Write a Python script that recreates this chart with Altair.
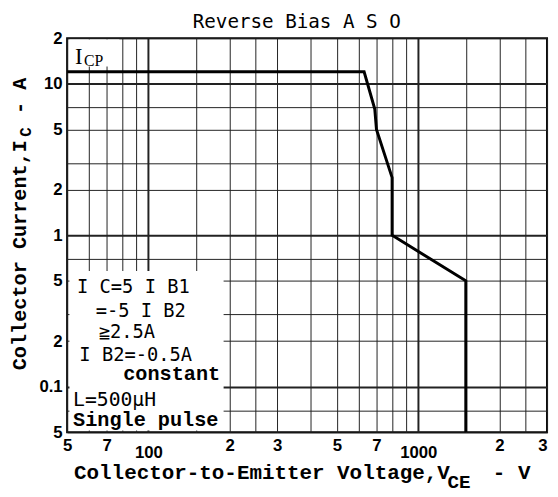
import altair as alt
import pandas as pd

# ---- data ----
V = [50, 630, 690, 700, 800, 800, 1500, 1500]          # Collector-to-Emitter voltage (V)
I = [12, 12, 6.8, 5, 2.4, 1, 0.5, 0.05]                 # Collector current (A)

x_grid = [50, 60, 70, 80, 90, 100, 150, 200, 250, 300, 400, 500, 600, 700, 800, 900,
          1000, 1500, 2000, 2500, 3000]
x_tick_values = [50, 70, 100, 200, 300, 500, 700, 1000, 2000, 3000]
x_tick_labels = ["5", "7", "100", "2", "3", "5", "7", "1000", "2", "3"]

NB = "\u00a0"
y_grid = [0.05, 0.07, 0.1, 0.2, 0.3, 0.5, 0.7, 1, 2, 3, 5, 7, 10, 20]
y_tick_values = [20, 10, 5, 2, 1, 0.5, 0.2, 0.1, 0.05]
y_tick_labels = ["2", "10" + NB * 2, "5", "2", "1" + NB * 3, "5", "2", "0.1" + NB, "5"]

# annotation texts (anchored in data coordinates)
note_text = ["I C=5 I B1", "=-5 I B2", "≧2.5A", "I B2=-0.5A"]
note_V = [54.4, 63.8, 65.5, 55.5]
note_I = [0.455, 0.315, 0.228, 0.161]
note_l_text = ["L=500μH"]
note_l_V = [52.6]
note_l_I = [0.0815]
note2_text = ["constant", "Single pulse"]
note2_V = [80.7, 52.6]
note2_I = [0.121, 0.0600]

box_V = [51, 190]
box_I = [0.0515, 0.58]
icp_box_V = [51, 78]
icp_box_I = [13.0, 19.6]


def label_expr(vals, labels):
    expr = "''"
    for v, l in reversed(list(zip(vals, labels))):
        expr = f"datum.value == {v} ? '{l}' : ({expr})"
    return expr


major_x = "datum.value == 100 || datum.value == 1000"
major_y = "datum.value == 1 || datum.value == 10 || datum.value == 0.1"

xscale = alt.Scale(type="log", domain=[50, 3000], nice=False)
yscale = alt.Scale(type="log", domain=[0.05, 20], nice=False)

LABEL_FONT = "Liberation Sans Narrow, Liberation Sans"

x_axis = alt.Axis(
    values=x_grid, grid=True, gridColor="#222",
    gridWidth={"condition": {"test": major_x, "value": 2}, "value": 1},
    ticks=False, domain=False, labelExpr=label_expr(x_tick_values, x_tick_labels),
    labelOverlap=False, labelFlush=False, labelBound=False,
    labelFont=LABEL_FONT, labelFontSize=17, labelFontWeight="bold", labelColor="black",
    labelPadding=13,
    labelBaseline={"condition": {"test": major_x, "value": "top"}, "value": "middle"},
    labelAlign={"condition": {"test": "datum.value == 3000", "value": "right"}, "value": "center"},
    title=None,
)
y_axis = alt.Axis(
    values=y_grid, grid=True, gridColor="#222",
    gridWidth={"condition": {"test": major_y, "value": 2}, "value": 1},
    ticks=False, domain=False, labelExpr=label_expr(y_tick_values, y_tick_labels),
    labelOverlap=False, labelFlush=False, labelBound=False,
    labelFont=LABEL_FONT, labelFontSize=17, labelFontWeight="bold", labelColor="black",
    labelPadding=5, title=None,
)

curve_df = pd.DataFrame({"V": V, "I": I, "o": list(range(len(V)))})

curve = alt.Chart(curve_df).mark_line(color="black", strokeWidth=3, clip=True).encode(
    x=alt.X("V:Q", scale=xscale, axis=x_axis),
    y=alt.Y("I:Q", scale=yscale, axis=y_axis),
    order="o:Q",
)

box_df = pd.DataFrame({"v1": [box_V[0], icp_box_V[0]], "v2": [box_V[1], icp_box_V[1]],
                       "i1": [box_I[0], icp_box_I[0]], "i2": [box_I[1], icp_box_I[1]]})
boxes = alt.Chart(box_df).mark_rect(color="white").encode(
    x=alt.X("v1:Q", scale=xscale), x2="v2:Q",
    y=alt.Y("i1:Q", scale=yscale), y2="i2:Q",
)


def note_layer(texts, vs, is_, font, size, weight="normal", baseline="middle"):
    return alt.Chart(pd.DataFrame({"t": texts, "V": vs, "I": is_})).mark_text(
        font=font, fontSize=size, fontWeight=weight, align="left", baseline=baseline,
        color="black"
    ).encode(x=alt.X("V:Q", scale=xscale), y=alt.Y("I:Q", scale=yscale), text="t:N")


notes = note_layer(note_text, note_V, note_I, "DejaVu Sans Mono", 19)
notes_l = note_layer(note_l_text, note_l_V, note_l_I, "DejaVu Sans Mono", 20)
notes2 = note_layer(note2_text, note2_V, note2_I, "Liberation Mono", 20.5, "bold")
icp = note_layer(["I"], [53.5], [13.6], "Liberation Serif", 23, baseline="alphabetic")
icp_sub = note_layer(["CP"], [57.8], [13.2], "Liberation Serif", 16, baseline="alphabetic")


def txt(s, x, y, font, size, weight="normal", align="left", baseline="alphabetic", angle=0):
    return alt.Chart(pd.DataFrame({"t": [s]})).mark_text(
        font=font, fontSize=size, fontWeight=weight, align=align, baseline=baseline,
        angle=angle, color="black"
    ).encode(x=alt.value(x), y=alt.value(y), text="t:N")


MONO = "Liberation Mono"
title = txt("Reverse Bias A S O", 233, -10, "DejaVu Sans Mono", 19.5, align="center")
xt1 = txt("Collector-to-Emitter Voltage,V", 7, 447, MONO, 21.2, "bold")
xt2 = txt("CE", 386, 456, MONO, 19.5, "bold")
xt3 = txt("-" + NB + "V", 432, 447, MONO, 21.2, "bold")
yt1 = txt("Collector Current,I", -48, 337, MONO, 20.5, "bold", baseline="middle", angle=270)
yt2 = txt("C", -42, 100, MONO, 16, "bold", baseline="middle", angle=270)
yt3 = txt("-" + NB + "A", -48, 77, MONO, 20.5, "bold", baseline="middle", angle=270)

chart = alt.layer(
    boxes, curve, notes, notes_l, notes2, icp, icp_sub, title, xt1, xt2, xt3, yt1, yt2, yt3
).properties(
    width=487, height=400,
    autosize=alt.AutoSizeParams(type="none"),
    padding={"left": 60, "top": 27, "right": 3, "bottom": 62},
).configure_view(
    stroke="black", strokeWidth=2
)

chart.save("out.html", embed_options={"renderer": "svg", "actions": False})
